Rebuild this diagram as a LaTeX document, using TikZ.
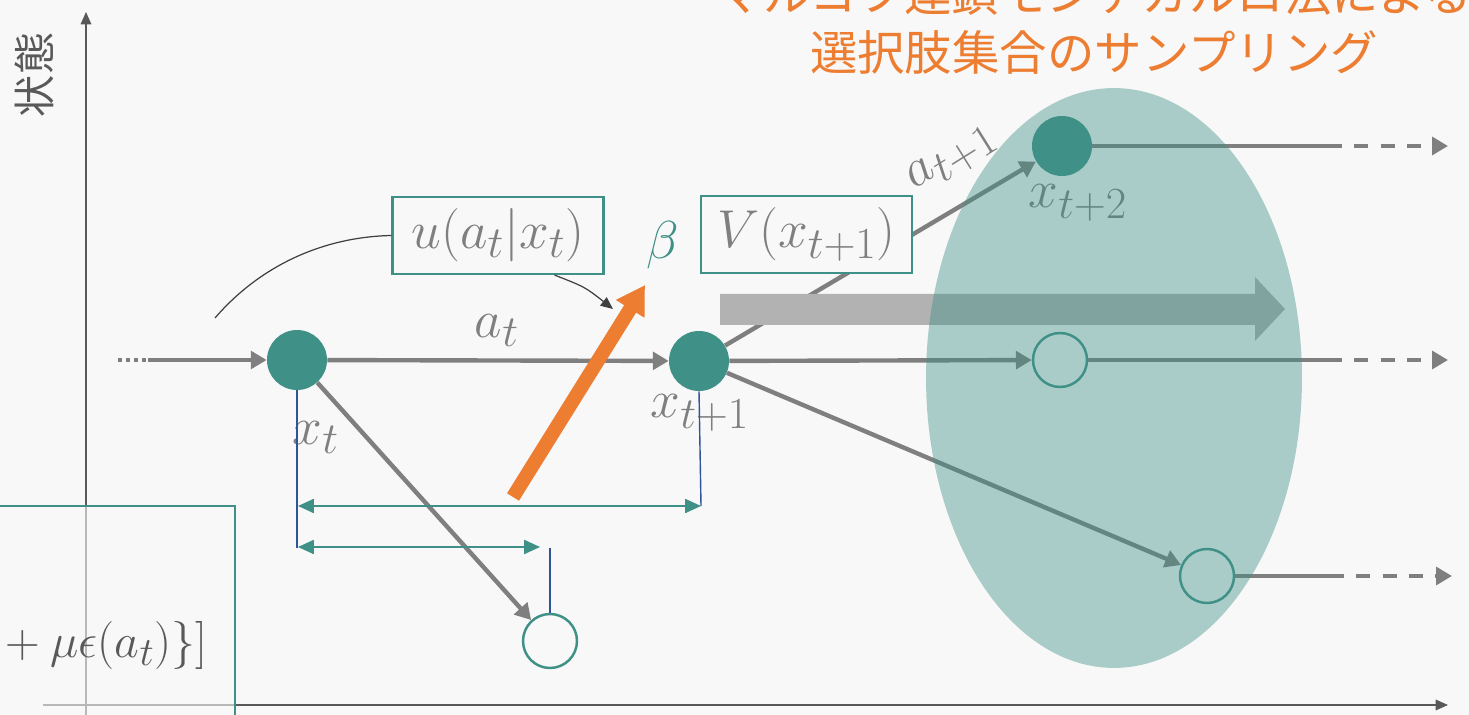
\documentclass[tikz,border=0pt]{standalone}
\usepackage{fontspec}
\usetikzlibrary{arrows.meta}
\newfontfamily\jpfont{Noto Sans CJK JP}
\definecolor{mcteal}{HTML}{3F9086}
\definecolor{mcorange}{HTML}{ED7D31}
\definecolor{mcgray}{HTML}{7F7F7F}
\definecolor{mcbg}{HTML}{F8F8F8}
\definecolor{mcblue}{HTML}{2F5597}
\definecolor{mcaxis}{HTML}{595959}
\newcommand{\mlab}[1]{\scalebox{1.22}{$#1$}}
\pgfdeclarelayer{bg}
\pgfsetlayers{bg,main}
\begin{document}
\begin{tikzpicture}[x=0.02cm,y=-0.02cm,
  conn/.style={mcgray,line width=2.5pt,-{Triangle[length=9pt,width=10pt]}},
  state/.style={circle,fill=mcteal,minimum size=1.2cm,inner sep=0pt},
  cand/.style={circle,draw=mcteal,line width=1.4pt,minimum size=1.08cm,inner sep=0pt},
  lbl/.style={text=mcgray,font=\fontsize{24.88}{30}\selectfont},
  fbox/.style={draw=mcteal,line width=1.2pt,fill=mcbg,text=mcgray,font=\fontsize{24.88}{30}\selectfont,minimum height=1.54cm,minimum width=4.22cm},
  spanarr/.style={mcteal,line width=0.9pt,{Triangle[length=9pt,width=8pt]}-{Triangle[length=9pt,width=8pt]}},
  vline/.style={mcblue,line width=0.8pt}]
  \useasboundingbox (0,0) rectangle (1469,715);

  \node[state] (xt) at (297,360) {};
  \node[state] (xt1) at (699,361) {};
  \node[state] (xt2) at (1062,146) {};
  \node[cand] (xs) at (550,641) {};
  \node[cand] (xm) at (1060,360) {};
  \node[cand] (xl) at (1207,576) {};

  \coordinate (s0) at (118,360);
  \coordinate (s1) at (148,360);
  \coordinate (o1) at (1328,146);
  \coordinate (p1) at (1448,146);
  \coordinate (o2) at (1328,360);
  \coordinate (p2) at (1448,360);
  \coordinate (o3) at (1330,576);
  \coordinate (p3) at (1452,576);

  \begin{pgfonlayer}{bg}
    \fill[mcbg] (0,0) rectangle (1469,715);
    \draw[mcaxis,line width=0.9pt,-{Triangle[length=7pt,width=6pt]}] (86,725) -- (86,12);
    \draw[mcaxis,line width=0.9pt,-{Triangle[length=7pt,width=6pt]}] (43,705) -- (1448,705);
    \node[text=mcaxis,font=\jpfont\fontsize{24}{28}\selectfont,rotate=90] (ylab) at (34,75) {状態};
    \draw[mcteal,line width=1.2pt,fill=mcbg,fill opacity=0.6] (-20,506) rectangle (235,740);
    \node[anchor=east,text=mcaxis,font=\fontsize{24.88}{30}\selectfont] (obj) at (214,645) {\scalebox{1.1}{${}+\mu\epsilon(a_t)\}]$}};

    \draw[mcgray,line width=2.5pt,dash pattern=on 2.3pt off 2.3pt] (s0) -- (s1);
    \draw[conn] (s1) -- (xt);
    \draw[conn] (xt) -- (xt1);
    \draw[conn] (xt) -- (xs);
    \draw[conn] (xt1) -- (xt2);
    \draw[conn] (xt1) -- (xm);
    \draw[conn] (xt1) -- (xl);
    \draw[mcgray,line width=2.5pt] (xt2) -- (o1);
    \draw[mcgray,line width=2.5pt] (xm) -- (o2);
    \draw[mcgray,line width=2.5pt] (xl) -- (o3);
    \draw[conn,dash pattern=on 8pt off 7pt] (o1) -- (p1);
    \draw[conn,dash pattern=on 8pt off 7pt] (o2) -- (p2);
    \draw[conn,dash pattern=on 8pt off 7pt] (o3) -- (p3);

    \fill[fill=black!30] (720,294) -- (1255,294) -- (1255,277) -- (1285,309) -- (1255,341) -- (1255,325) -- (720,325) -- cycle;
    \node[lbl] (lxt2) at (1078,203) {\mlab{x_{t+2}}};
    \node[lbl,rotate=32] (lat1) at (953,160) {\mlab{a_{t+1}}};
    \fill[mcteal,fill opacity=0.42] (1114,378) ellipse [x radius=3.76cm,y radius=5.8cm];
  \end{pgfonlayer}

  \node[lbl] (lat) at (497,331) {\mlab{a_t}};
  \node[lbl] (lxt) at (316,438) {\mlab{x_t}};
  \node[lbl] (lxt1) at (700,413) {\mlab{x_{t+1}}};
  \node[fbox] (u) at (498,235.5) {\mlab{u(a_t|x_t)}};
  \node[fbox] (v) at (806.5,234.5) {\mlab{V(x_{t+1})}};
  \node[text=mcteal,font=\fontsize{24.88}{30}\selectfont] (beta) at (663,245) {\mlab{\beta}};

  \coordinate (c0) at (215,318);
  \coordinate (c1) at (613,309);
  \draw[black!75,line width=0.7pt] (c0) .. controls (258,268) and (320,237) .. (u.west);
  \draw[black!75,line width=0.7pt,-{Triangle[length=7pt,width=6pt]}] (u.-35) .. controls (585,287) .. (c1);

  \coordinate (r0) at (513,497);
  \coordinate (r1) at (645,285);
  \draw[mcorange,line width=8pt,-{Triangle[length=16pt,width=18pt]}] (r0) -- (r1);

  \coordinate (b1) at (297,548);
  \coordinate (b2) at (701,506);
  \coordinate (b3) at (550,548);
  \draw[vline] (xt.south) -- (b1);
  \draw[vline] (xt1.south) -- (b2);
  \draw[vline] (xs.north) -- (b3);

  \coordinate (d1) at (298,506);
  \coordinate (d2) at (701,506);
  \coordinate (d3) at (298,547);
  \coordinate (d4) at (540,547);
  \draw[spanarr] (d1) -- (d2);
  \draw[spanarr] (d3) -- (d4);

  \node[text=mcorange,font=\jpfont\fontsize{27}{34}\selectfont,align=center] (title) at (1094,23) {マルコフ連鎖モンテカルロ法による\\選択肢集合のサンプリング};
\end{tikzpicture}
\end{document}
